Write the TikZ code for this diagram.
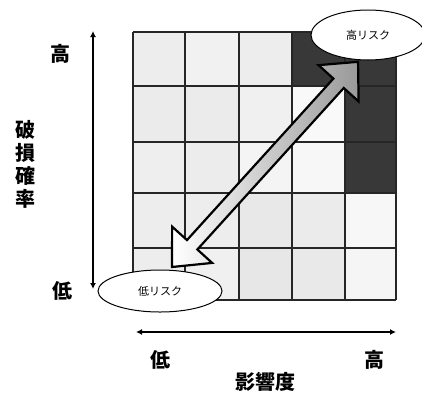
\documentclass[tikz,border=0pt]{standalone}
\usepackage{fontspec}
\setmainfont{Noto Sans CJK JP}
\newfontfamily\cjk{Noto Sans CJK JP}
\usetikzlibrary{arrows.meta,shapes.geometric}
\definecolor{darkcell}{HTML}{383838}
\tikzset{
  cell/.style={draw=black!85, line width=1.3pt},
  axis/.style={line width=2.4pt, {Latex[length=6pt,width=6pt]}-{Latex[length=6pt,width=6pt]}},
  lbl/.style={font=\cjk\bfseries\fontsize{20}{22}\selectfont, inner sep=0pt},
  risk/.style={ellipse, draw=black, fill=white, line width=1pt, font=\cjk\fontsize{11}{12}\selectfont},
}
\begin{document}
\begin{tikzpicture}[x=1pt,y=-1pt]
\useasboundingbox[fill=white] (0,0) rectangle (422,394);
% row 0
\fill[gray!14] (133,32) rectangle (185,86);
\fill[gray!11] (185,32) rectangle (239,86);
\fill[gray!14] (239,32) rectangle (292,86);
\fill[darkcell] (292,32) rectangle (345,86);
\fill[darkcell] (345,32) rectangle (396,86);
% row 1
\fill[gray!16] (133,86) rectangle (185,142);
\fill[gray!16] (185,86) rectangle (239,142);
\fill[gray!12] (239,86) rectangle (292,142);
\fill[gray!5] (292,86) rectangle (345,142);
\fill[darkcell] (345,86) rectangle (396,142);
% row 2
\fill[gray!13] (133,142) rectangle (185,193);
\fill[gray!15] (185,142) rectangle (239,193);
\fill[gray!9] (239,142) rectangle (292,193);
\fill[gray!6] (292,142) rectangle (345,193);
\fill[darkcell] (345,142) rectangle (396,193);
% row 3
\fill[gray!14] (133,193) rectangle (185,248);
\fill[gray!14] (185,193) rectangle (239,248);
\fill[gray!18] (239,193) rectangle (292,248);
\fill[gray!16] (292,193) rectangle (345,248);
\fill[gray!6] (345,193) rectangle (396,248);
% row 4
\fill[gray!14] (133,248) rectangle (185,300);
\fill[gray!12] (185,248) rectangle (239,300);
\fill[gray!19] (239,248) rectangle (292,300);
\fill[gray!17] (292,248) rectangle (345,300);
\fill[gray!8] (345,248) rectangle (396,300);
% grid lines
\foreach \x in {133,185,239,292,345,396} \draw[cell] (\x,32) -- (\x,300);
\foreach \y in {32,86,142,193,248,300} \draw[cell] (133,\y) -- (396,\y);
% big double arrow
\begin{scope}[shift={(172,267)}, rotate=47.8]
\filldraw[draw=black, line width=2.2pt, line join=miter, left color=white, right color=gray!80]
  (0,0) -- (30,27) -- (30,7) -- (248,7) -- (248,27) -- (277,0) -- (248,-27) -- (248,-7) -- (30,-7) -- (30,-27) -- cycle;
\end{scope}
% risk ellipses
\node[risk, minimum width=114pt, minimum height=50pt] (hi) at (368,35) {高リスク};
\node[risk, minimum width=124pt, minimum height=42pt] (lo) at (160,291) {低リスク};
% axes
\coordinate (vt) at (93,31);
\coordinate (vb) at (93,289);
\draw[axis] (vb) -- (vt);
\coordinate (hl) at (136,332);
\coordinate (hr) at (396,332);
\draw[axis] (hl) -- (hr);
% labels
\node[lbl] (vhi) at (60,54) {高};
\node[lbl] (vlo) at (62,291) {低};
\node[lbl, align=center] (vtitle) at (26,164) {破\\[1pt]損\\[1pt]確\\[1pt]率};
\node[lbl] (hlo) at (160,360) {低};
\node[lbl] (hhi) at (374,360) {高};
\node[lbl] (htitle) at (265,382) {影響度};
\end{tikzpicture}
\end{document}
